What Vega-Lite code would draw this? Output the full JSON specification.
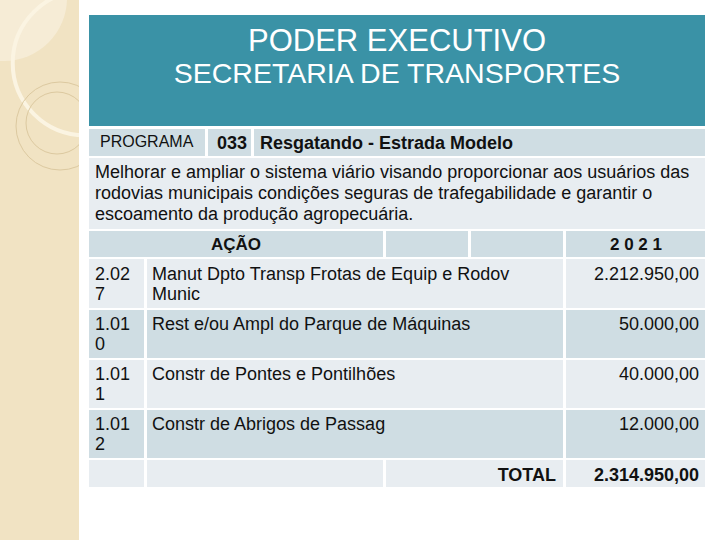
{
  "$schema": "https://vega.github.io/schema/vega-lite/v6.json",
  "width": 720,
  "height": 540,
  "autosize": {"type": "none"},
  "padding": 0,
  "background": "#ffffff",
  "config": {"view": {"stroke": null}, "text": {"font": "Liberation Sans"}},
  "datasets": {
    "strip": [{"x0": 0, "x1": 79, "y0": 0, "y1": 540}],
    "disk": [{"cx": 4, "cy": -2}],
    "arc": [{"cx": 85, "cy": 63}],
    "rings": [{"cx": 60, "cy": 126, "ring": "outer"}, {"cx": 57, "cy": 123, "ring": "inner"}],
    "page": [{"x0": 79, "x1": 720, "y0": 0, "y1": 540}],
    "cells": [
      {"x0": 89, "x1": 705, "y0": 15, "y1": 126, "tone": "teal"},
      {"x0": 89, "x1": 205, "y0": 129, "y1": 156, "tone": "dark"},
      {"x0": 208, "x1": 251, "y0": 129, "y1": 156, "tone": "dark"},
      {"x0": 254, "x1": 705, "y0": 129, "y1": 156, "tone": "dark"},
      {"x0": 89, "x1": 705, "y0": 158, "y1": 229, "tone": "light"},
      {"x0": 89, "x1": 383, "y0": 231, "y1": 257, "tone": "dark"},
      {"x0": 386, "x1": 468, "y0": 231, "y1": 257, "tone": "dark"},
      {"x0": 471, "x1": 563, "y0": 231, "y1": 257, "tone": "dark"},
      {"x0": 566, "x1": 705, "y0": 231, "y1": 257, "tone": "dark"},
      {"x0": 89, "x1": 144, "y0": 259, "y1": 308, "tone": "light"},
      {"x0": 147, "x1": 563, "y0": 259, "y1": 308, "tone": "light"},
      {"x0": 566, "x1": 705, "y0": 259, "y1": 308, "tone": "light"},
      {"x0": 89, "x1": 144, "y0": 310, "y1": 358, "tone": "dark"},
      {"x0": 147, "x1": 563, "y0": 310, "y1": 358, "tone": "dark"},
      {"x0": 566, "x1": 705, "y0": 310, "y1": 358, "tone": "dark"},
      {"x0": 89, "x1": 144, "y0": 360, "y1": 408, "tone": "light"},
      {"x0": 147, "x1": 563, "y0": 360, "y1": 408, "tone": "light"},
      {"x0": 566, "x1": 705, "y0": 360, "y1": 408, "tone": "light"},
      {"x0": 89, "x1": 144, "y0": 410, "y1": 458, "tone": "dark"},
      {"x0": 147, "x1": 563, "y0": 410, "y1": 458, "tone": "dark"},
      {"x0": 566, "x1": 705, "y0": 410, "y1": 458, "tone": "dark"},
      {"x0": 89, "x1": 144, "y0": 460, "y1": 487, "tone": "light"},
      {"x0": 147, "x1": 383, "y0": 460, "y1": 487, "tone": "light"},
      {"x0": 386, "x1": 563, "y0": 460, "y1": 487, "tone": "light"},
      {"x0": 566, "x1": 705, "y0": 460, "y1": 487, "tone": "light"}
    ],
    "texts": [
      {"x": 397, "y": 51, "s": "PODER EXECUTIVO", "kind": "title"},
      {"x": 397, "y": 83, "s": "SECRETARIA DE TRANSPORTES", "kind": "subtitle"},
      {"x": 100, "y": 147, "s": "PROGRAMA", "kind": "label"},
      {"x": 217, "y": 149, "s": "033", "kind": "prog"},
      {"x": 260, "y": 149, "s": "Resgatando - Estrada Modelo", "kind": "prog"},
      {"x": 95, "y": 178, "s": "Melhorar e ampliar o sistema viário visando proporcionar aos usuários das", "kind": "body"},
      {"x": 95, "y": 199, "s": "rodovias municipais condições seguras de trafegabilidade e garantir o", "kind": "body"},
      {"x": 95, "y": 220, "s": "escoamento da produção agropecuária.", "kind": "body"},
      {"x": 236, "y": 250, "s": "AÇÃO", "kind": "head"},
      {"x": 636, "y": 250, "s": "2 0 2 1", "kind": "head"},
      {"x": 95, "y": 280, "s": "2.02", "kind": "body"},
      {"x": 95, "y": 300, "s": "7", "kind": "body"},
      {"x": 152, "y": 280, "s": "Manut Dpto Transp Frotas de Equip e Rodov", "kind": "body"},
      {"x": 152, "y": 300, "s": "Munic", "kind": "body"},
      {"x": 95, "y": 330, "s": "1.01", "kind": "body"},
      {"x": 95, "y": 350, "s": "0", "kind": "body"},
      {"x": 152, "y": 330, "s": "Rest e/ou Ampl do Parque de Máquinas", "kind": "body"},
      {"x": 95, "y": 380, "s": "1.01", "kind": "body"},
      {"x": 95, "y": 400, "s": "1", "kind": "body"},
      {"x": 152, "y": 380, "s": "Constr de Pontes e Pontilhões", "kind": "body"},
      {"x": 95, "y": 430, "s": "1.01", "kind": "body"},
      {"x": 95, "y": 450, "s": "2", "kind": "body"},
      {"x": 152, "y": 430, "s": "Constr de Abrigos de Passag", "kind": "body"},
      {"x": 699, "y": 280, "s": "2.212.950,00", "kind": "num"},
      {"x": 699, "y": 330, "s": "50.000,00", "kind": "num"},
      {"x": 699, "y": 380, "s": "40.000,00", "kind": "num"},
      {"x": 699, "y": 430, "s": "12.000,00", "kind": "num"},
      {"x": 556, "y": 481, "s": "TOTAL", "kind": "total"},
      {"x": 699, "y": 481, "s": "2.314.950,00", "kind": "total"}
    ]
  },
  "layer": [
    {
      "data": {"name": "strip"},
      "mark": {"type": "rect", "color": "#F1E3C3"},
      "encoding": {
        "x": {"field": "x0", "type": "quantitative", "scale": {"domain": [0, 720], "nice": false, "zero": false}, "axis": null},
        "x2": {"field": "x1"},
        "y": {"field": "y0", "type": "quantitative", "scale": {"domain": [0, 540], "nice": false, "zero": false, "reverse": true}, "axis": null},
        "y2": {"field": "y1"}
      }
    },
    {
      "data": {"name": "disk"},
      "mark": {"type": "point", "shape": "circle", "filled": true, "color": "#F6ECD6", "opacity": 1, "size": 15876},
      "encoding": {
        "x": {"field": "cx", "type": "quantitative", "scale": {"domain": [0, 720], "nice": false, "zero": false}, "axis": null},
        "y": {"field": "cy", "type": "quantitative", "scale": {"domain": [0, 540], "nice": false, "zero": false, "reverse": true}, "axis": null}
      }
    },
    {
      "data": {"name": "arc"},
      "mark": {"type": "point", "shape": "circle", "filled": false, "stroke": "#FBF4E2", "strokeWidth": 4, "opacity": 1, "size": 20900},
      "encoding": {
        "x": {"field": "cx", "type": "quantitative", "scale": {"domain": [0, 720], "nice": false, "zero": false}, "axis": null},
        "y": {"field": "cy", "type": "quantitative", "scale": {"domain": [0, 540], "nice": false, "zero": false, "reverse": true}, "axis": null}
      }
    },
    {
      "data": {"name": "rings"},
      "mark": {"type": "point", "shape": "circle", "filled": false, "stroke": "#DCC9A0", "strokeWidth": 1, "opacity": 1},
      "encoding": {
        "x": {"field": "cx", "type": "quantitative", "scale": {"domain": [0, 720], "nice": false, "zero": false}, "axis": null},
        "y": {"field": "cy", "type": "quantitative", "scale": {"domain": [0, 540], "nice": false, "zero": false, "reverse": true}, "axis": null},
        "size": {"field": "ring", "type": "nominal", "scale": {"domain": ["outer", "inner"], "range": [7744, 3844]}, "legend": null}
      }
    },
    {
      "data": {"name": "page"},
      "mark": {"type": "rect", "color": "#ffffff"},
      "encoding": {
        "x": {"field": "x0", "type": "quantitative", "scale": {"domain": [0, 720], "nice": false, "zero": false}, "axis": null},
        "x2": {"field": "x1"},
        "y": {"field": "y0", "type": "quantitative", "scale": {"domain": [0, 540], "nice": false, "zero": false, "reverse": true}, "axis": null},
        "y2": {"field": "y1"}
      }
    },
    {
      "data": {"name": "cells"},
      "mark": {"type": "rect"},
      "encoding": {
        "x": {"field": "x0", "type": "quantitative", "scale": {"domain": [0, 720], "nice": false, "zero": false}, "axis": null},
        "x2": {"field": "x1"},
        "y": {"field": "y0", "type": "quantitative", "scale": {"domain": [0, 540], "nice": false, "zero": false, "reverse": true}, "axis": null},
        "y2": {"field": "y1"},
        "color": {"field": "tone", "type": "nominal", "scale": {"domain": ["teal", "dark", "light"], "range": ["#3A92A6", "#CFDDE3", "#E8EDF1"]}, "legend": null}
      }
    },
    {
      "data": {"name": "texts"},
      "transform": [{"filter": "datum.kind === 'title'"}],
      "mark": {"type": "text", "align": "center", "baseline": "alphabetic", "fontSize": 31, "color": "#ffffff"},
      "encoding": {
        "x": {"field": "x", "type": "quantitative", "scale": {"domain": [0, 720], "nice": false, "zero": false}, "axis": null},
        "y": {"field": "y", "type": "quantitative", "scale": {"domain": [0, 540], "nice": false, "zero": false, "reverse": true}, "axis": null},
        "text": {"field": "s"}
      }
    },
    {
      "data": {"name": "texts"},
      "transform": [{"filter": "datum.kind === 'subtitle'"}],
      "mark": {"type": "text", "align": "center", "baseline": "alphabetic", "fontSize": 28.5, "color": "#ffffff"},
      "encoding": {
        "x": {"field": "x", "type": "quantitative", "scale": {"domain": [0, 720], "nice": false, "zero": false}, "axis": null},
        "y": {"field": "y", "type": "quantitative", "scale": {"domain": [0, 540], "nice": false, "zero": false, "reverse": true}, "axis": null},
        "text": {"field": "s"}
      }
    },
    {
      "data": {"name": "texts"},
      "transform": [{"filter": "datum.kind === 'label'"}],
      "mark": {"type": "text", "align": "left", "baseline": "alphabetic", "fontSize": 16, "color": "#111111"},
      "encoding": {
        "x": {"field": "x", "type": "quantitative", "scale": {"domain": [0, 720], "nice": false, "zero": false}, "axis": null},
        "y": {"field": "y", "type": "quantitative", "scale": {"domain": [0, 540], "nice": false, "zero": false, "reverse": true}, "axis": null},
        "text": {"field": "s"}
      }
    },
    {
      "data": {"name": "texts"},
      "transform": [{"filter": "datum.kind === 'prog'"}],
      "mark": {"type": "text", "align": "left", "baseline": "alphabetic", "fontSize": 18, "fontWeight": "bold", "color": "#111111"},
      "encoding": {
        "x": {"field": "x", "type": "quantitative", "scale": {"domain": [0, 720], "nice": false, "zero": false}, "axis": null},
        "y": {"field": "y", "type": "quantitative", "scale": {"domain": [0, 540], "nice": false, "zero": false, "reverse": true}, "axis": null},
        "text": {"field": "s"}
      }
    },
    {
      "data": {"name": "texts"},
      "transform": [{"filter": "datum.kind === 'body'"}],
      "mark": {"type": "text", "align": "left", "baseline": "alphabetic", "fontSize": 18, "color": "#111111"},
      "encoding": {
        "x": {"field": "x", "type": "quantitative", "scale": {"domain": [0, 720], "nice": false, "zero": false}, "axis": null},
        "y": {"field": "y", "type": "quantitative", "scale": {"domain": [0, 540], "nice": false, "zero": false, "reverse": true}, "axis": null},
        "text": {"field": "s"}
      }
    },
    {
      "data": {"name": "texts"},
      "transform": [{"filter": "datum.kind === 'num'"}],
      "mark": {"type": "text", "align": "right", "baseline": "alphabetic", "fontSize": 18, "color": "#111111"},
      "encoding": {
        "x": {"field": "x", "type": "quantitative", "scale": {"domain": [0, 720], "nice": false, "zero": false}, "axis": null},
        "y": {"field": "y", "type": "quantitative", "scale": {"domain": [0, 540], "nice": false, "zero": false, "reverse": true}, "axis": null},
        "text": {"field": "s"}
      }
    },
    {
      "data": {"name": "texts"},
      "transform": [{"filter": "datum.kind === 'head'"}],
      "mark": {"type": "text", "align": "center", "baseline": "alphabetic", "fontSize": 17, "fontWeight": "bold", "color": "#111111"},
      "encoding": {
        "x": {"field": "x", "type": "quantitative", "scale": {"domain": [0, 720], "nice": false, "zero": false}, "axis": null},
        "y": {"field": "y", "type": "quantitative", "scale": {"domain": [0, 540], "nice": false, "zero": false, "reverse": true}, "axis": null},
        "text": {"field": "s"}
      }
    },
    {
      "data": {"name": "texts"},
      "transform": [{"filter": "datum.kind === 'total'"}],
      "mark": {"type": "text", "align": "right", "baseline": "alphabetic", "fontSize": 18, "fontWeight": "bold", "color": "#111111"},
      "encoding": {
        "x": {"field": "x", "type": "quantitative", "scale": {"domain": [0, 720], "nice": false, "zero": false}, "axis": null},
        "y": {"field": "y", "type": "quantitative", "scale": {"domain": [0, 540], "nice": false, "zero": false, "reverse": true}, "axis": null},
        "text": {"field": "s"}
      }
    }
  ]
}
